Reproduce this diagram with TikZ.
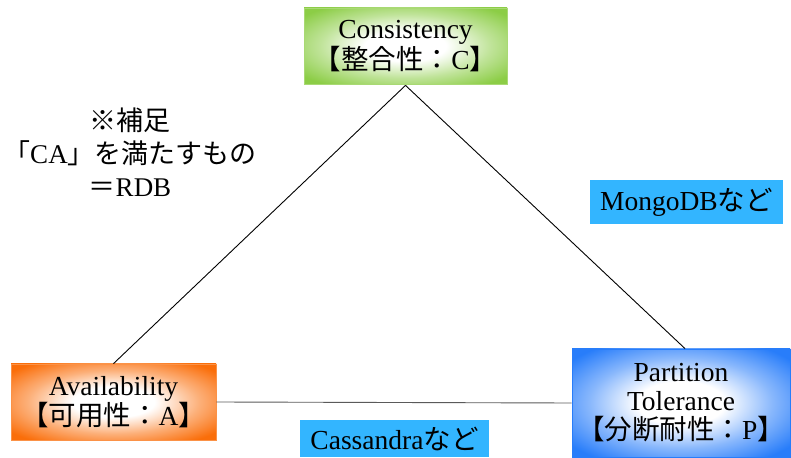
\documentclass[tikz,border=0pt]{standalone}
\usepackage{fontspec}
\setmainfont{Liberation Serif}
\newfontfamily\jpfont{Noto Sans CJK JP}
\newcommand\ja[1]{{\jpfont #1}}

\definecolor{capGreen}{RGB}{140,205,70}
\definecolor{capOrange}{RGB}{250,110,10}
\definecolor{capBlue}{RGB}{40,125,250}
\definecolor{tagBlue}{RGB}{51,181,255}
\definecolor{edgeGray}{RGB}{90,90,90}

% white core fading out to the property colour at the box edge
\pgfdeclareradialshading{glowgreen}{\pgfpoint{0bp}{0bp}}{color(0bp)=(white); color(10bp)=(white); color(21bp)=(capGreen!55!white); color(32bp)=(capGreen); color(50bp)=(capGreen)}
\pgfdeclareradialshading{gloworange}{\pgfpoint{0bp}{0bp}}{color(0bp)=(white); color(10bp)=(white); color(21bp)=(capOrange!55!white); color(32bp)=(capOrange); color(50bp)=(capOrange)}
\pgfdeclareradialshading{glowblue}{\pgfpoint{0bp}{0bp}}{color(0bp)=(white); color(10bp)=(white); color(21bp)=(capBlue!55!white); color(32bp)=(capBlue); color(50bp)=(capBlue)}

\tikzset{
  capbox/.style={inner sep=0pt, align=center, line width=0.8pt,
    font=\fontsize{27.5}{29}\selectfont},
  tagbox/.style={fill=tagBlue, inner sep=0pt, align=center,
    font=\fontsize{27.5}{29}\selectfont},
  note/.style={inner sep=0pt, align=center, font=\fontsize{27}{33}\selectfont},
  edge/.style={line width=0.9pt, black},
  baseedge/.style={line width=0.9pt, edgeGray}
}

\begin{document}
\begin{tikzpicture}[x=1pt,y=1pt]
\useasboundingbox (0,0) rectangle (791,457);

% the three CAP properties
\node[capbox, shading=glowgreen, draw=capGreen!75!white,
      minimum width=203pt, minimum height=76pt] (C) at (405.5,411)
  {Consistency\\\ja{【整合性：}C\ja{】}};
\node[capbox, shading=gloworange, draw=capOrange!75!white,
      minimum width=205pt, minimum height=76pt] (A) at (113.5,55)
  {Availability\\\ja{【可用性：}A\ja{】}};
\node[capbox, shading=glowblue, draw=capBlue,
      minimum width=218pt, minimum height=108pt] (P) at (681,54)
  {Partition\\Tolerance\\\ja{【分断耐性：}P\ja{】}};

% triangle sides
\coordinate (apex) at ([yshift=-1pt]C.south);
\coordinate (ptop) at ([xshift=4pt]P.north);
\draw[edge] (apex) -- (A.north);
\draw[edge] (apex) -- (ptop);
\draw[baseedge] (A.east) -- (P.west);

% example systems on the sides
\node[tagbox, minimum width=193pt, minimum height=44pt] (mongo) at (686.5,255)
  {MongoDB\ja{など}};
\node[tagbox, minimum width=189pt, minimum height=37pt] (cass) at (394.5,18.5)
  {Cassandra\ja{など}};

% remark on the CA side
\node[note] (remark) at (130,305)
  {\ja{※補足}\\\ja{「}CA\ja{」を満たすもの}\\\ja{＝}RDB};
\end{tikzpicture}
\end{document}
